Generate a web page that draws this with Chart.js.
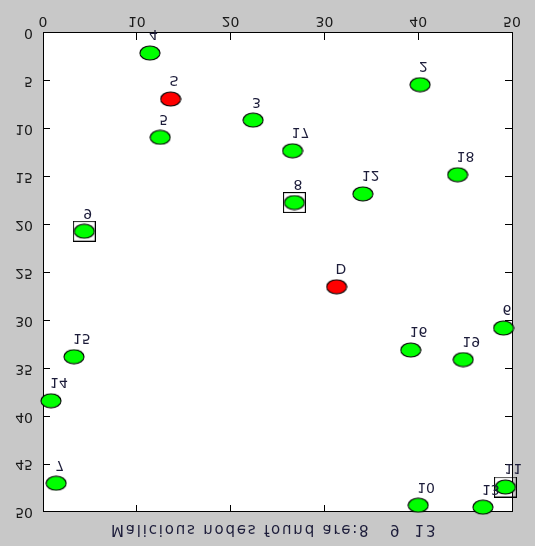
<!DOCTYPE html>
<html>
<head>
<meta charset="utf-8">
<script src="https://cdn.jsdelivr.net/npm/chart.js@4.4.0/dist/chart.umd.min.js"></script>
<style>
  html, body { margin: 0; padding: 0; background: #c8c8c8; }
  /* the reference figure is mirrored top to bottom */
  #chart { display: block; transform: scaleY(-1); }
</style>
</head>
<body>
<canvas id="chart" width="535" height="546"></canvas>
<script>
// sensor nodes (field is 50 x 50)
const nodeLabels = ["2", "3", "4", "5", "6", "7", "8", "9", "10", "11", "12", "13", "14", "15", "16", "17", "18", "19"];
const nodeX = [40.2, 22.4, 11.4, 12.5, 49.1, 1.4, 26.8, 4.4, 40.0, 49.3, 34.1, 46.9, 0.85, 3.3, 39.2, 26.6, 44.2, 44.8];
const nodeY = [5.4, 9.1, 2.1, 10.9, 30.8, 47.0, 17.7, 20.7, 49.3, 47.4, 16.8, 49.5, 38.4, 33.8, 33.1, 12.3, 14.8, 34.1];

// source and destination
const endLabels = ["S", "D"];
const endX = [13.6, 31.3];
const endY = [6.9, 26.5];

// squares drawn round the flagged nodes
const boxX = [26.8, 4.4, 49.3];
const boxY = [17.7, 20.7, 47.4];
const malicious = [8, 9, 13];

const xMin = 0, xMax = 50, xStep = 10;
const yMin = 0, yMax = 50, yStep = 5;

const title = "Malicious nodes found are:8   9  13";

function toPoints(xs, ys) {
	return xs.map((x, i) => ({ x: x, y: ys[i] }));
}

function makeMarker(fill) {
	const c = document.createElement("canvas");
	c.width = 22;
	c.height = 16;
	const g = c.getContext("2d");
	g.beginPath();
	g.ellipse(11, 8, 10, 7, 0, 0, Math.PI * 2);
	g.fillStyle = fill;
	g.fill();
	g.lineWidth = 1.2;
	g.strokeStyle = "#000";
	g.stroke();
	return c;
}

function makeBox() {
	const c = document.createElement("canvas");
	c.width = 23;
	c.height = 21;
	const g = c.getContext("2d");
	g.lineWidth = 1.2;
	g.strokeStyle = "#000";
	g.strokeRect(0.5, 0.5, 22, 20);
	return c;
}

const tickFont = { family: "DejaVu Sans", size: 14 };
const tickColor = "#1a1a1a";

// white axes box on the grey figure
const plotBackground = {
	id: "plotBackground",
	beforeDraw(chart) {
		const { ctx, chartArea: a } = chart;
		ctx.save();
		ctx.fillStyle = "#ffffff";
		ctx.fillRect(a.left, a.top, a.right - a.left, a.bottom - a.top);
		ctx.restore();
	},
};

const nodeLabelPlugin = {
	id: "nodeLabels",
	afterDatasetsDraw(chart) {
		const { ctx, scales } = chart;
		ctx.save();
		ctx.font = '14px "DejaVu Sans"';
		ctx.fillStyle = "#1c1c3a";
		ctx.textAlign = "left";
		ctx.textBaseline = "middle";
		const put = (labels, xs, ys) => {
			labels.forEach((t, i) => {
				const px = scales.x.getPixelForValue(xs[i]);
				const py = scales.y.getPixelForValue(ys[i]);
				ctx.fillText(t, px - 1, py + 19);
			});
		};
		put(nodeLabels, nodeX, nodeY);
		put(endLabels, endX, endY);
		ctx.restore();
	},
};

const titlePlugin = {
	id: "figTitle",
	afterDraw(chart) {
		const ctx = chart.ctx;
		ctx.save();
		ctx.font = '15px "DejaVu Sans"';
		ctx.letterSpacing = "1.8px";
		ctx.fillStyle = "#1c1c3a";
		ctx.textAlign = "left";
		ctx.textBaseline = "alphabetic";
		ctx.fillText(title, 111, 20.5);
		ctx.restore();
	},
};

const axisBase = {
	type: "linear",
	grid: { drawOnChartArea: false, drawTicks: true, tickLength: -7, color: "#000", lineWidth: 1 },
	border: { display: true, color: "#000", width: 1 },
};

new Chart(document.getElementById("chart"), {
	type: "scatter",
	data: {
		datasets: [
			{
				label: "nodes",
				data: toPoints(nodeX, nodeY),
				pointStyle: makeMarker("#00ff00"),
				clip: false,
			},
			{
				label: "source / destination",
				data: toPoints(endX, endY),
				pointStyle: makeMarker("#ff0000"),
				clip: false,
			},
			{
				label: "malicious",
				data: toPoints(boxX, boxY),
				pointStyle: makeBox(),
				clip: false,
			},
		],
	},
	options: {
		responsive: false,
		animation: false,
		events: [],
		layout: { padding: { left: 0, right: 23, top: 34, bottom: 0 } },
		plugins: {
			legend: { display: false },
			tooltip: { enabled: false },
		},
		scales: {
			x: {
				...axisBase,
				position: "bottom",
				min: xMin,
				max: xMax,
				ticks: { stepSize: xStep, font: tickFont, color: tickColor, padding: 11, maxRotation: 0 },
				afterFit: (s) => { s.height = 33; },
			},
			y: {
				...axisBase,
				position: "left",
				min: yMin,
				max: yMax,
				ticks: { stepSize: yStep, font: tickFont, color: tickColor, padding: 17 },
				afterFit: (s) => { s.width = 43; },
			},
			x2: {
				...axisBase,
				position: "top",
				min: xMin,
				max: xMax,
				ticks: { stepSize: xStep, display: false },
				afterFit: (s) => { s.height = 0; },
			},
			y2: {
				...axisBase,
				position: "right",
				min: yMin,
				max: yMax,
				ticks: { stepSize: yStep, display: false },
				afterFit: (s) => { s.width = 0; },
			},
		},
	},
	plugins: [plotBackground, nodeLabelPlugin, titlePlugin],
});
</script>
</body>
</html>
